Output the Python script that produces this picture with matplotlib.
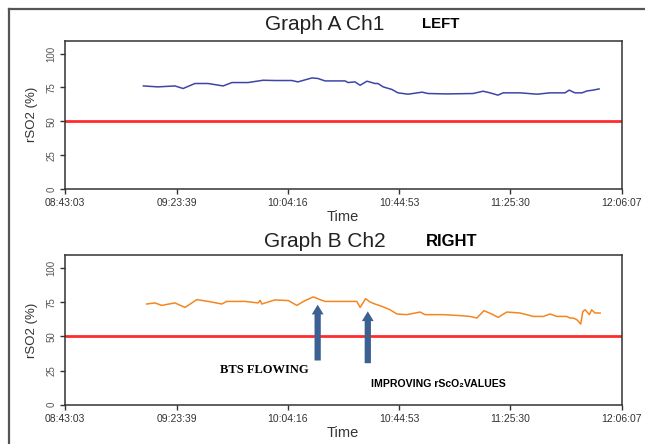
import matplotlib
matplotlib.use("Agg")
import matplotlib.pyplot as plt
from matplotlib import font_manager
from matplotlib.lines import Line2D

# ---------------- data ----------------
x_start = "08:43:03"
x_end = "12:06:07"
tick_labels = ["08:43:03", "09:23:39", "10:04:16", "10:44:53", "11:25:30", "12:06:07"]
y_ticks = [0, 25, 50, 75, 100]
threshold = 50

times_a = ["09:11:33", "09:16:51", "09:23:03", "09:26:03", "09:30:21", "09:35:09", "09:40:39",
           "09:43:51", "09:49:45", "09:55:15", "09:59:33", "10:05:45", "10:07:57", "10:13:03",
           "10:15:15", "10:17:51", "10:25:09", "10:26:15", "10:28:45", "10:30:39", "10:33:09",
           "10:36:03", "10:37:09", "10:39:03", "10:42:15", "10:44:27", "10:48:09", "10:53:15",
           "10:55:27", "11:02:21", "11:11:51", "11:15:33", "11:18:03", "11:20:57", "11:22:51",
           "11:29:03", "11:35:15", "11:39:57", "11:45:27", "11:46:57", "11:49:03", "11:51:39",
           "11:53:27", "11:55:39", "11:57:51"]
values_a = [76.1, 75.4, 76.1, 74.2, 77.9, 77.9, 76.1, 78.6, 78.6, 80.3, 80.1, 80.1, 79.1, 82.0,
            81.6, 79.8, 79.8, 78.6, 79.1, 76.6, 79.6, 77.9, 77.9, 75.4, 73.5, 71.0, 70.0, 71.5,
            70.5, 70.2, 70.5, 72.2, 71.0, 69.3, 71.0, 71.0, 70.0, 71.0, 71.0, 73.0, 71.0, 71.0,
            72.4, 73.0, 73.9]

times_b = ["09:12:45", "09:15:45", "09:18:15", "09:23:03", "09:26:45", "09:31:03", "09:35:15",
           "09:40:09", "09:41:57", "09:48:39", "09:53:27", "09:54:09", "09:54:45", "09:59:33",
           "10:04:27", "10:07:33", "10:10:33", "10:13:33", "10:16:03", "10:17:51", "10:23:57",
           "10:29:27", "10:30:39", "10:32:39", "10:34:15", "10:36:03", "10:38:33", "10:41:33",
           "10:44:03", "10:47:39", "10:52:33", "10:54:21", "11:01:03", "11:06:27", "11:10:45",
           "11:13:15", "11:15:51", "11:18:39", "11:21:03", "11:24:09", "11:29:03", "11:33:51",
           "11:37:33", "11:39:57", "11:42:27", "11:46:03", "11:47:15", "11:48:27", "11:49:45",
           "11:51:09", "11:51:57", "11:52:45", "11:54:21", "11:55:09", "11:56:21", "11:58:15"]
values_b = [73.8, 74.6, 72.8, 74.6, 71.3, 77.0, 75.7, 73.8, 75.7, 75.7, 74.6, 76.5, 73.8, 76.8,
            76.3, 72.8, 76.3, 79.0, 77.0, 75.7, 75.7, 75.7, 71.3, 77.7, 75.3, 73.8, 72.1, 69.6,
            66.5, 66.0, 67.9, 66.0, 66.0, 65.4, 64.7, 63.5, 68.9, 66.5, 64.0, 67.9, 67.2, 64.7,
            64.7, 66.5, 64.7, 64.7, 63.5, 63.5, 62.3, 59.1, 68.4, 69.6, 66.0, 69.6, 67.2, 67.2]

titles = ["Graph A Ch1", "Graph B Ch2"]
sides = ["LEFT", "RIGHT"]
arrow_times = ["10:15:09", "10:33:27"]
arrow_tips = [73.3, 68.4]
arrow_tails = [32.4, 30.4]
note1 = "BTS FLOWING"
note2 = "IMPROVING rScO\u2082VALUES"


def secs(s):
    h, m, sec = (int(v) for v in s.split(":"))
    return h * 3600 + m * 60 + sec


def pick(names):
    for n in names:
        try:
            font_manager.findfont(font_manager.FontProperties(family=n), fallback_to_default=False)
            return n
        except Exception:
            continue
    return "DejaVu Sans"


sans = pick(["Liberation Sans", "Arial"])
narrow = pick(["Liberation Sans Narrow", "Liberation Sans"])
serif = pick(["Liberation Serif", "DejaVu Serif"])

W, H = 645, 444
fig = plt.figure(figsize=(W / 100, H / 100), dpi=100)
fig.patch.set_facecolor("white")

# outer frame (left and top edges visible)
fig.add_artist(Line2D([9 / W, 9 / W], [0, 1 - 9 / H], transform=fig.transFigure,
                      color="#555555", lw=1.6))
fig.add_artist(Line2D([9 / W, 1], [1 - 9 / H, 1 - 9 / H], transform=fig.transFigure,
                      color="#555555", lw=1.6))

ax_left = 65.3 / W
ax_w = (621.7 - 65.3) / W
boxes = [(40.7, 189.0), (255.3, 404.7)]
colors = ["#3d46a6", "#f5861f"]
series = [(times_a, values_a), (times_b, values_b)]
title_y = [24, 241]
time_y = [217, 433]

axes = []
for i in range(2):
    top, bot = boxes[i]
    ax = fig.add_axes([ax_left, 1 - bot / H, ax_w, (bot - top) / H])
    axes.append(ax)
    ts, vs = series[i]
    ax.plot([secs(t) for t in ts], vs, color=colors[i], lw=1.1)
    ax.axhline(threshold, color="#ff2b2b", lw=2.0, zorder=1)
    ax.set_xlim(secs(x_start), secs(x_end))
    ax.set_ylim(0, 109.5)
    ax.set_xticks([secs(t) for t in tick_labels])
    ax.set_xticklabels(tick_labels, fontsize=7.5, family=sans, color="#333333")
    ax.set_yticks(y_ticks)
    ax.set_yticklabels([str(v) for v in y_ticks], fontsize=7, family=sans, color="#555555",
                       rotation=90, va="center")
    ax.tick_params(axis="both", direction="out", length=3.5, width=1, color="#333333", pad=3)
    for sp in ax.spines.values():
        sp.set_color("#333333")
        sp.set_linewidth(1.1)
    ax.set_ylabel("rSO2 (%)", fontsize=9.5, family=sans, color="#333333", labelpad=6)
    fig.text(325 / W, 1 - title_y[i] / H, titles[i], fontsize=15, family=sans,
             color="#222222", ha="center", va="center")
    fig.text((422 if i == 0 else 426) / W, 1 - title_y[i] / H, sides[i],
             fontsize=(10.8 if i == 0 else 12), family=narrow, weight="bold",
             color="black", ha="left", va="center")
    fig.text(343 / W, 1 - time_y[i] / H, "Time", fontsize=10.5, family=sans,
             color="#333333", ha="center", va="center")

axb = axes[1]
for t, tip, tail in zip(arrow_times, arrow_tips, arrow_tails):
    axb.annotate("", xy=(secs(t), tip), xytext=(secs(t), tail),
                 arrowprops=dict(arrowstyle="simple,head_length=0.7,head_width=0.85,tail_width=0.45",
                                 color="#3b6091", lw=0, shrinkA=0, shrinkB=0))

fig.text(220 / W, 1 - 370 / H, note1, fontsize=9, family=serif, weight="bold",
         color="black", ha="left", va="center")
fig.text(371 / W, 1 - 384 / H, note2, fontsize=7.6, family=[narrow, "DejaVu Sans"],
         weight="bold", color="black", ha="left", va="center")

fig.savefig("out.png", dpi=100)
